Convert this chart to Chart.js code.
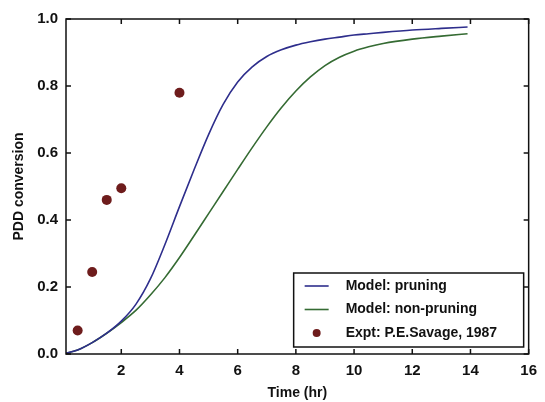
<!DOCTYPE html>
<html>
<head>
    <meta charset="utf-8">
    <title>PDD conversion vs time</title>
    <script src="https://cdn.jsdelivr.net/npm/chart.js"></script>
    <style>
        body { margin: 0; background: #fff; }
    </style>
</head>
<body>
    <canvas id="grafico" width="545" height="402"></canvas>

    <script>
        // Model curves (time in hr)
        var tempoModelo = [0, 0.5, 1, 1.5, 2, 2.5, 3, 3.5, 4, 4.5, 5, 5.5, 6, 6.5, 7, 7.5, 8, 8.5, 9, 9.5, 10, 10.5, 11, 12, 13, 13.9];
        var pruning = [0, 0.012, 0.034, 0.062, 0.098, 0.148, 0.224, 0.327, 0.44, 0.55, 0.655, 0.745, 0.812, 0.857, 0.888, 0.908, 0.922, 0.932, 0.94, 0.946, 0.952, 0.956, 0.96, 0.967, 0.972, 0.976];
        var nonPruning = [0, 0.012, 0.034, 0.062, 0.094, 0.13, 0.176, 0.228, 0.288, 0.353, 0.419, 0.485, 0.551, 0.616, 0.678, 0.735, 0.785, 0.827, 0.861, 0.886, 0.904, 0.917, 0.927, 0.94, 0.949, 0.956];

        // Experimental points
        var tempoExpt = [0.5, 1, 1.5, 2, 4];
        var conversaoExpt = [0.07, 0.245, 0.46, 0.495, 0.78];

        // Tick labels
        var xTicks = [2, 4, 6, 8, 10, 12, 14, 16];
        var yTicks = [0, 0.2, 0.4, 0.6, 0.8, 1.0];

        var fonte = "'Liberation Sans', Arial, sans-serif";

        function juntar(xs, ys) {
            return xs.map(function (x, i) { return { x: x, y: ys[i] }; });
        }

        // box around the plot with inward ticks on all four sides
        var moldura = {
            id: 'moldura',
            afterDraw: function (chart) {
                var ctx = chart.ctx;
                var a = chart.chartArea;
                var sx = chart.scales.x;
                var sy = chart.scales.y;
                var t = 5;
                ctx.save();
                ctx.strokeStyle = '#111';
                ctx.lineWidth = 1.5;
                ctx.strokeRect(a.left, a.top, a.right - a.left, a.bottom - a.top);
                ctx.beginPath();
                xTicks.forEach(function (v) {
                    var px = sx.getPixelForValue(v);
                    ctx.moveTo(px, a.bottom); ctx.lineTo(px, a.bottom - t);
                    ctx.moveTo(px, a.top); ctx.lineTo(px, a.top + t);
                });
                yTicks.forEach(function (v) {
                    var py = sy.getPixelForValue(v);
                    ctx.moveTo(a.left, py); ctx.lineTo(a.left + t, py);
                    ctx.moveTo(a.right, py); ctx.lineTo(a.right - t, py);
                });
                ctx.stroke();
                ctx.restore();
            }
        };

        // legend drawn inside the plot, lower right
        var legenda = {
            id: 'legenda',
            afterDraw: function (chart) {
                var ctx = chart.ctx;
                var a = chart.chartArea;
                var box = { left: a.right - 235, top: a.bottom - 81, w: 230, h: 74 };
                ctx.save();
                ctx.fillStyle = '#fff';
                ctx.fillRect(box.left, box.top, box.w, box.h);
                ctx.strokeStyle = '#111';
                ctx.lineWidth = 1.5;
                ctx.strokeRect(box.left, box.top, box.w, box.h);
                ctx.font = 'bold 14px ' + fonte;
                ctx.textBaseline = 'middle';
                chart.data.datasets.forEach(function (ds, i) {
                    var y = box.top + 13 + i * 23.5;
                    var x0 = box.left + 11;
                    if (ds.showLine) {
                        ctx.strokeStyle = ds.borderColor;
                        ctx.lineWidth = 1.6;
                        ctx.beginPath();
                        ctx.moveTo(x0, y);
                        ctx.lineTo(x0 + 24, y);
                        ctx.stroke();
                    } else {
                        ctx.fillStyle = ds.backgroundColor;
                        ctx.beginPath();
                        ctx.arc(x0 + 12, y, 4, 0, Math.PI * 2);
                        ctx.fill();
                    }
                    ctx.fillStyle = '#111';
                    ctx.fillText(ds.label, box.left + 52, y);
                });
                ctx.restore();
            }
        };

        var ctx = document.getElementById('grafico').getContext('2d');
        var grafico = new Chart(ctx, {
            type: 'scatter',
            data: {
                datasets: [
                    {
                        label: 'Model: pruning',
                        data: juntar(tempoModelo, pruning),
                        showLine: true,
                        borderColor: '#2e2e8c',
                        borderWidth: 1.6,
                        pointRadius: 0,
                        cubicInterpolationMode: 'monotone'
                    },
                    {
                        label: 'Model: non-pruning',
                        data: juntar(tempoModelo, nonPruning),
                        showLine: true,
                        borderColor: '#356b33',
                        borderWidth: 1.6,
                        pointRadius: 0,
                        cubicInterpolationMode: 'monotone'
                    },
                    {
                        label: 'Expt: P.E.Savage, 1987',
                        data: juntar(tempoExpt, conversaoExpt),
                        showLine: false,
                        backgroundColor: '#6e1c1c',
                        borderWidth: 0,
                        pointRadius: 5
                    }
                ]
            },
            options: {
                responsive: false,
                animation: false,
                layout: { padding: { top: 19, right: 8, left: 0, bottom: 0 } },
                plugins: {
                    legend: { display: false },
                    tooltip: { enabled: false }
                },
                scales: {
                    x: {
                        type: 'linear',
                        min: 0.1,
                        max: 16,
                        afterFit: function (s) { s.height = 48; },
                        afterBuildTicks: function (s) {
                            s.ticks = xTicks.map(function (v) { return { value: v }; });
                        },
                        grid: { display: false, drawTicks: false },
                        border: { display: false },
                        ticks: {
                            padding: 8,
                            color: '#111',
                            font: { family: fonte, size: 15, weight: 'bold' },
                            callback: function (v) { return v; }
                        },
                        title: {
                            display: true,
                            text: 'Time (hr)',
                            color: '#111',
                            padding: { top: 0, bottom: 0 },
                            font: { family: fonte, size: 14, weight: 'bold' }
                        }
                    },
                    y: {
                        min: 0,
                        max: 1,
                        afterFit: function (s) { s.width = 66; },
                        afterBuildTicks: function (s) {
                            s.ticks = yTicks.map(function (v) { return { value: v }; });
                        },
                        grid: { display: false, drawTicks: false },
                        border: { display: false },
                        ticks: {
                            padding: 8,
                            color: '#111',
                            font: { family: fonte, size: 15, weight: 'bold' },
                            callback: function (v) { return v.toFixed(1); }
                        },
                        title: {
                            display: true,
                            text: 'PDD conversion',
                            color: '#111',
                            padding: { top: 11, bottom: 0 },
                            font: { family: fonte, size: 14, weight: 'bold' }
                        }
                    }
                }
            },
            plugins: [moldura, legenda]
        });
    </script>
</body>
</html>
